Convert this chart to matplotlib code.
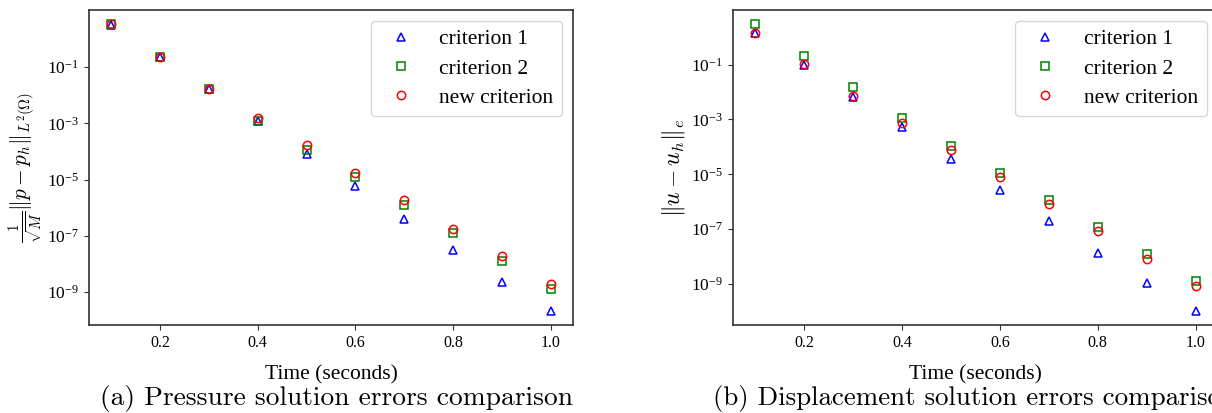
import matplotlib
matplotlib.use("Agg")
import matplotlib.pyplot as plt
from matplotlib.ticker import NullLocator

plt.rcParams['mathtext.fontset'] = 'cm'
plt.rcParams['font.family'] = ['Liberation Serif', 'DejaVu Serif']

# time steps
t = [0.1, 0.2, 0.3, 0.4, 0.5, 0.6, 0.7, 0.8, 0.9, 1.0]

# (a) pressure errors
p_crit1 = [3.2, 0.22, 0.0165, 1.25e-3, 7.9e-5, 5.8e-6, 4.1e-7, 3.1e-8, 2.26e-9, 2.2e-10]
p_crit2 = [3.25, 0.225, 0.0163, 1.21e-3, 1.16e-4, 1.24e-5, 1.29e-6, 1.28e-7, 1.3e-8, 1.32e-9]
p_new = [3.27, 0.226, 0.0166, 1.6e-3, 1.66e-4, 1.74e-5, 1.85e-6, 1.82e-7, 1.9e-8, 1.93e-9]

# (b) displacement errors
u_crit1 = [1.38, 0.098, 0.0068, 5.2e-4, 3.7e-5, 2.75e-6, 1.94e-7, 1.4e-8, 1.05e-9, 1.07e-10]
u_crit2 = [2.94, 0.206, 0.0149, 1.1e-3, 1.12e-4, 1.15e-5, 1.2e-6, 1.2e-7, 1.21e-8, 1.26e-9]
u_new = [1.42, 0.103, 0.00718, 7.7e-4, 8.0e-5, 7.9e-6, 8.1e-7, 8.4e-8, 8.5e-9, 8.8e-10]

labels = ['criterion 1', 'criterion 2', 'new criterion']
markers = ['^', 's', 'o']
colors = ['b', 'g', 'r']

fig = plt.figure(figsize=(12.12, 4.13), dpi=100)
W, H = 1212.0, 413.0
ax1 = fig.add_axes([89 / W, 88 / H, 484 / W, 315 / H])
ax2 = fig.add_axes([733 / W, 88 / H, 484.7 / W, 315 / H])


def draw(ax, series, ylabel, ylab_x, ylab_size):
    for vals, m, c, lab in zip(series, markers, colors, labels):
        ax.plot(t, vals, linestyle='none', marker=m, markersize=6,
                markerfacecolor='none', markeredgecolor=c, markeredgewidth=1.1,
                label=lab)
    ax.set_yscale('log')
    ax.set_yticks([1e-1, 1e-3, 1e-5, 1e-7, 1e-9])
    ax.yaxis.set_minor_locator(NullLocator())
    ax.set_xticks([0.2, 0.4, 0.6, 0.8, 1.0])
    ax.tick_params(color='0.2')
    ax.tick_params(axis='y', labelsize=12.5)
    ax.tick_params(axis='x', labelsize=11.5)
    for s in ax.spines.values():
        s.set_color('0.2')
        s.set_linewidth(1.2)
    ax.set_xlabel('Time (seconds)', fontsize=15.5)
    ax.xaxis.set_label_coords(0.5, -0.127)
    ax.set_ylabel(ylabel, fontsize=ylab_size)
    ax.yaxis.set_label_coords(ylab_x, 0.5)
    ax.legend(loc='upper right', fontsize=15.5, labelspacing=0.42,
              handletextpad=0.8)


draw(ax1, [p_crit1, p_crit2, p_new],
     r'$\frac{1}{\sqrt{M}}\|p - p_h\|_{L^2(\Omega)}$', -0.094, 15.3)
draw(ax2, [u_crit1, u_crit2, u_new], r'$\|u - u_h\|_e$', -0.095, 17)

fig.text(100 / W, (413 - 398) / H, '(a) Pressure solution errors comparison',
         family='cmr10', fontsize=19.8, ha='left', va='center')
fig.text(712.7 / W, (413 - 398) / H, '(b) Displacement solution errors comparison',
         family='cmr10', fontsize=19.4, ha='left', va='center')

fig.savefig('out.png', dpi=100)
